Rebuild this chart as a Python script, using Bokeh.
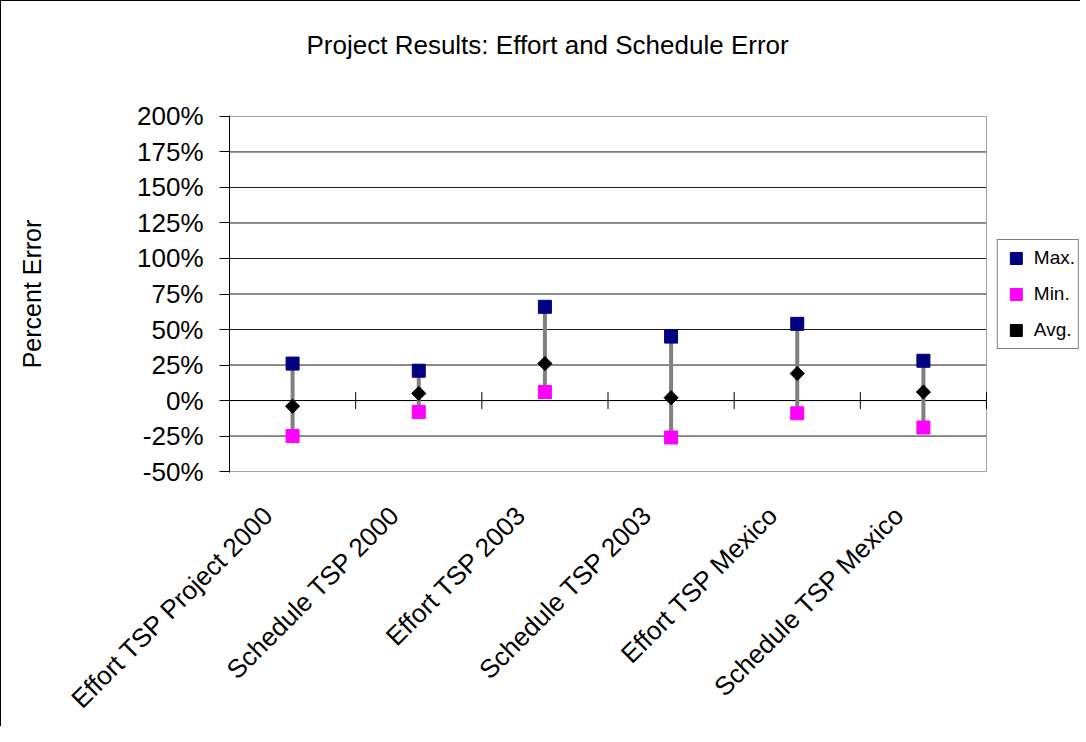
import math
from bokeh.plotting import figure
from bokeh.models import (Range1d, ColumnDataSource, FixedTicker, PrintfTickFormatter,
                          Legend, LegendItem, LinearAxis, CustomJSTickFormatter)
from bokeh.embed import file_html
from bokeh.resources import INLINE

categories = ["Effort TSP Project 2000", "Schedule TSP 2000", "Effort TSP 2003",
              "Schedule TSP 2003", "Effort TSP Mexico", "Schedule TSP Mexico"]
max_vals = [26, 21, 66, 45, 54, 28]
min_vals = [-25, -8, 6, -26, -9, -19]
avg_vals = [-4, 5, 26, 2, 19, 6]
y_ticks = [-50, -25, 0, 25, 50, 75, 100, 125, 150, 175, 200]
title_text = "Project Results: Effort and Schedule Error"
y_title = "Percent Error"

FONT = "Liberation Sans"
LABEL_SHIFT = 0.19      # shift of rotated category labels (in category widths)
FIG_W, FIG_H = 1080, 726
LEFT, TOP, BOTTOM = 228, 112, 234
PLOT_W = 757            # width of the drawn plot area; the rest of the frame holds the legend
PLOT_H = FIG_H - TOP - BOTTOM

n = len(categories)
frame_w = FIG_W - LEFT
x_end = n * frame_w / PLOT_W
y_pad = (y_ticks[-1] - y_ticks[0]) / (PLOT_H - 2)

centers = [i + 0.5 for i in range(n)]
src = ColumnDataSource(dict(x=centers, cat=categories, mx=max_vals, mn=min_vals, av=avg_vals))
bounds = ColumnDataSource(dict(x=list(range(1, n + 1)), y=[0] * n))
grid_src = ColumnDataSource(dict(y=y_ticks[1:-1], x0=[0] * (len(y_ticks) - 2),
                                 x1=[n] * (len(y_ticks) - 2)))
edge_src = ColumnDataSource(dict(x0=[0, 0, n], x1=[n, n, n],
                                 y0=[y_ticks[0], y_ticks[-1], y_ticks[0]],
                                 y1=[y_ticks[0], y_ticks[-1], y_ticks[-1]]))

p = figure(width=FIG_W, height=FIG_H, output_backend="svg", toolbar_location=None,
           x_range=Range1d(0, x_end), y_range=(y_ticks[0] - y_pad, y_ticks[-1] + y_pad),
           x_axis_location=None,
           min_border_left=LEFT, min_border_right=0, min_border_top=TOP, min_border_bottom=BOTTOM,
           background_fill_color="white", border_fill_color="white")
p.styles = {"border-left": "1px solid black", "border-top": "1px solid black"}
p.outline_line_color = None

# title (an empty second line lifts the text within its panel)
p.title.text = title_text + "\n"
p.title.text_font = FONT
p.title.text_font_size = "26px"
p.title.text_font_style = "normal"
p.title.text_color = "black"
p.title.align = "left"
p.title.offset = 77
p.title.standoff = 52

p.xgrid.visible = False
p.ygrid.visible = False

# y axis
yax = p.yaxis[0]
yax.ticker = FixedTicker(ticks=y_ticks)
yax.formatter = PrintfTickFormatter(format="%d%%")
yax.axis_line_color = "black"
yax.major_tick_line_color = "black"
yax.major_tick_out = 10
yax.major_tick_in = 0
yax.minor_tick_line_color = None
yax.major_label_text_font = FONT
yax.major_label_text_font_size = "26px"
yax.major_label_text_color = "black"
yax.major_label_standoff = 16
yax.axis_label = y_title
yax.axis_label_text_font = FONT
yax.axis_label_text_font_size = "25px"
yax.axis_label_text_font_style = "normal"
yax.axis_label_text_color = "black"
yax.axis_label_standoff = 88

# x axis: category labels, rotated
lab_ticks = [c - LABEL_SHIFT for c in centers]
xax = LinearAxis(ticker=FixedTicker(ticks=lab_ticks),
                 formatter=CustomJSTickFormatter(args=dict(cats=categories, sh=LABEL_SHIFT),
                                                 code="return cats[Math.round(tick + sh - 0.5)];"))
xax.axis_line_color = None
xax.major_tick_line_color = None
xax.minor_tick_line_color = None
xax.major_label_orientation = math.pi / 4
xax.major_label_text_font = FONT
xax.major_label_text_font_size = "26px"
xax.major_label_text_color = "black"
xax.major_label_standoff = 32
p.add_layout(xax, "below")

# plot-area gridlines and border
p.segment(x0="x0", y0="y", x1="x1", y1="y", source=grid_src, line_color="#1a1a1a", line_width=1)
p.segment(x0="x0", y0="y0", x1="x1", y1="y1", source=edge_src, line_color="#a0a0a0", line_width=1)

# category axis along zero
p.segment(x0=[0], y0=[0], x1=[n], y1=[0], line_color="black", line_width=1)
p.scatter("x", "y", source=bounds, marker="dash", angle=math.pi / 2, size=17,
          line_color="black", line_width=1)

# high-low lines
p.segment(x0="x", y0="mn", x1="x", y1="mx", source=src, line_color="#808080", line_width=4)

r_max = p.scatter("x", "mx", source=src, marker="square", size=13,
                  fill_color="#000080", line_color="#000080")
r_min = p.scatter("x", "mn", source=src, marker="square", size=13,
                  fill_color="#FF00FF", line_color="#FF00FF")
r_avg = p.scatter("x", "av", source=src, marker="square", angle=math.pi / 4, size=10,
                  fill_color="black", line_color="black")

legend = Legend(items=[LegendItem(label="Max.", renderers=[r_max]),
                       LegendItem(label="Min.", renderers=[r_min]),
                       LegendItem(label="Avg.", renderers=[r_avg])],
                location="center_right")
legend.border_line_color = "black"
legend.border_line_width = 1
legend.background_fill_color = "white"
legend.label_text_font = FONT
legend.label_text_font_size = "19px"
legend.label_text_color = "black"
legend.glyph_width = 30
legend.glyph_height = 30
legend.label_standoff = 3
legend.spacing = 6
legend.padding = 3
legend.margin = 2
p.add_layout(legend, "center")

open("out.html", "w").write(file_html(p, INLINE))
